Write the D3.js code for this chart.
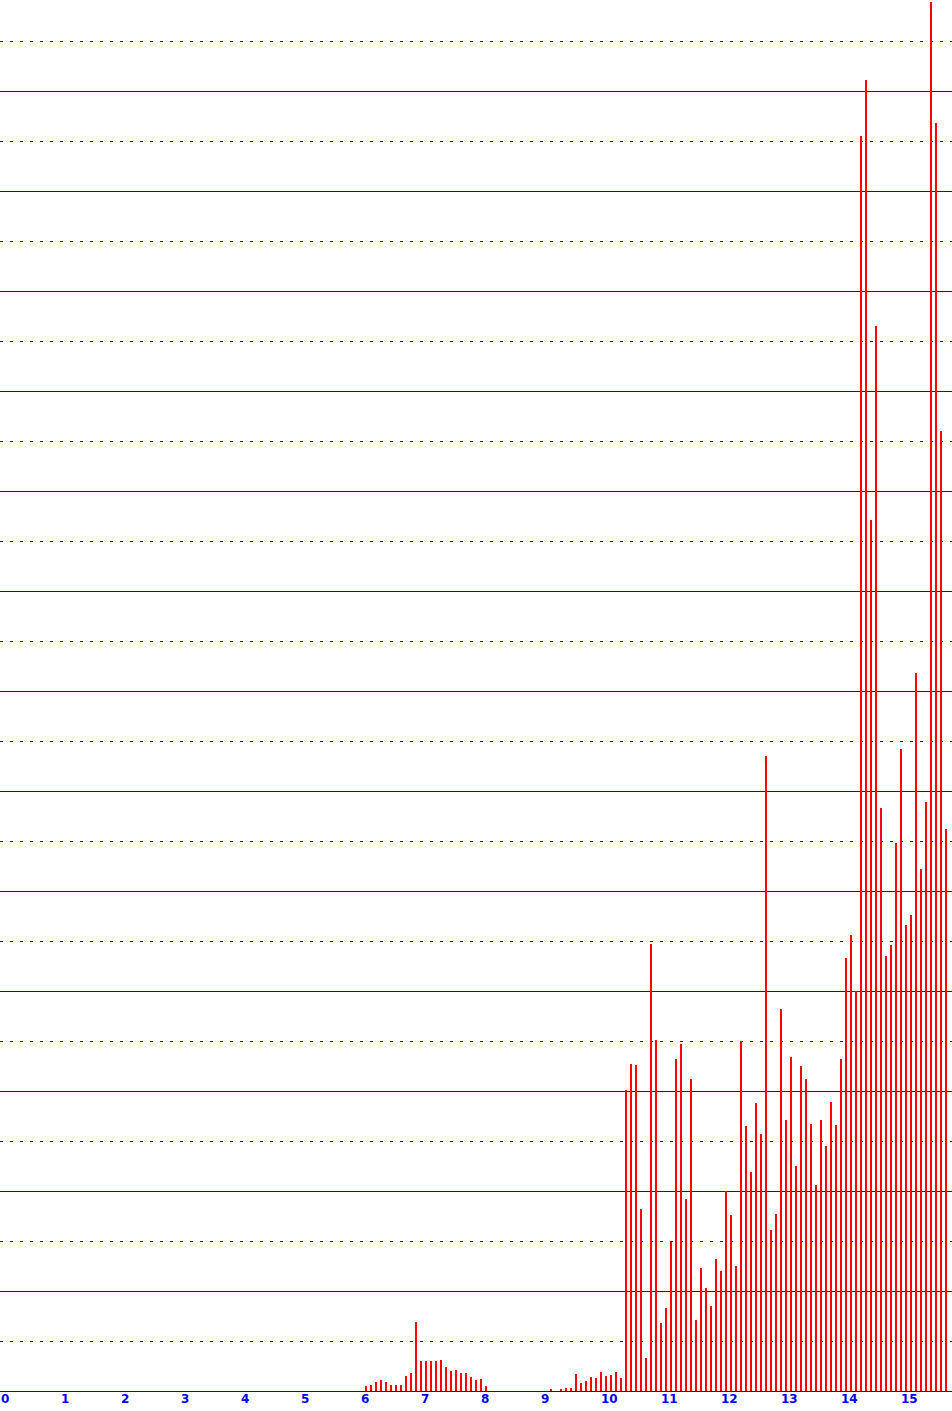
<!DOCTYPE html>
<html>
<head>
<meta charset="utf-8">
<script src="https://cdn.jsdelivr.net/npm/d3@7"></script>
<style>
  html, body { margin: 0; padding: 0; background: #ffffff; }
  svg { display: block; }
</style>
</head>
<body>
<svg id="chart" width="952" height="1411"></svg>
<script>
// ---- data ----
const startPos = 6;           // x position of first bar
const binsPerUnit = 12;       // bar spacing = 1/12 unit
const barValues = [
  0.05,0.06,0.09,0.11,0.09,0.06,0.06,0.06,0.15,0.18,0.69,0.30,0.30,0.30,0.30,0.31,0.24,0.20,0.21,0.18,0.18,0.14,0.11,0.12,0.05,
  0,0,0,0,0,0,0,0,0,0,0,0,
  0.02,0,0.02,0.03,0.03,0.17,0.08,0.10,0.14,0.13,0.19,0.15,0.16,0.19,0.13,
  3.01,3.27,3.26,1.82,0.33,4.47,3.51,0.68,0.83,1.49,3.32,3.47,1.92,3.12,0.71,1.23,1.03,0.85,1.32,
  1.20,2.00,1.76,1.25,3.50,2.65,2.19,2.88,2.57,6.35,1.61,1.77,3.82,2.71,3.34,2.25,3.25,3.12,2.67,2.06,
  2.71,2.45,2.89,2.66,3.32,4.33,4.56,4.00,12.55,13.11,8.71,10.65,5.83,4.35,4.46,5.48,6.42,4.66,4.76,
  7.18,5.22,5.89,13.89,12.68,9.60,5.62
];
const xTickLabels = ["0","1","2","3","4","5","6","7","8","9","10","11","12","13","14","15"];
const solidGrid = [1,2,3,4,5,6,7,8,9,10,11,12,13];
const dottedGrid = [0.5,1.5,2.5,3.5,4.5,5.5,6.5,7.5,8.5,9.5,10.5,11.5,12.5,13.5];

// ---- layout ----
const W = 952, H = 1411;
const svg = d3.select("#chart");
const x = d3.scaleLinear().domain([0, 15.8]).range([4, 4 + 60 * 15.8]);
const y = d3.scaleLinear().domain([0, 13.91]).range([1391, 0]);
const blue = "#0000ff";

const bars = barValues.map((v, i) => ({pos: startPos + i / binsPerUnit, v}));

// grid
svg.append("g").selectAll("line").data(dottedGrid).join("line")
  .attr("x1", 0).attr("x2", W)
  .attr("y1", d => Math.round(y(d)) + 0.5).attr("y2", d => Math.round(y(d)) + 0.5)
  .attr("stroke", blue).attr("stroke-width", 1)
  .attr("stroke-dasharray", "3,7")
  .attr("shape-rendering", "crispEdges");

svg.append("g").selectAll("line").data(solidGrid).join("line")
  .attr("x1", 0).attr("x2", W)
  .attr("y1", d => Math.round(y(d)) + 0.5).attr("y2", d => Math.round(y(d)) + 0.5)
  .attr("stroke", blue).attr("stroke-width", 1)
  .attr("shape-rendering", "crispEdges");

// bars
svg.append("g").selectAll("rect").data(bars.filter(d => d.v > 0)).join("rect")
  .attr("x", d => Math.round(x(d.pos)) + 1)
  .attr("width", 2)
  .attr("y", d => Math.round(y(d.v)))
  .attr("height", d => Math.round(y(0)) - Math.round(y(d.v)))
  .attr("fill", "#ff0000")
  .attr("shape-rendering", "crispEdges");

// baseline
svg.append("line")
  .attr("x1", 0).attr("x2", W)
  .attr("y1", Math.round(y(0)) + 0.5).attr("y2", Math.round(y(0)) + 0.5)
  .attr("stroke", blue).attr("stroke-width", 1)
  .attr("shape-rendering", "crispEdges");

// x axis labels
svg.append("g").selectAll("text").data(xTickLabels).join("text")
  .attr("x", (d, i) => x(i) - 3)
  .attr("y", 1403)
  .attr("text-anchor", "start")
  .attr("font-family", "'DejaVu Sans', sans-serif")
  .attr("font-weight", "bold")
  .attr("font-size", "12px")
  .attr("fill", blue)
  .text(d => d);
</script>
</body>
</html>
